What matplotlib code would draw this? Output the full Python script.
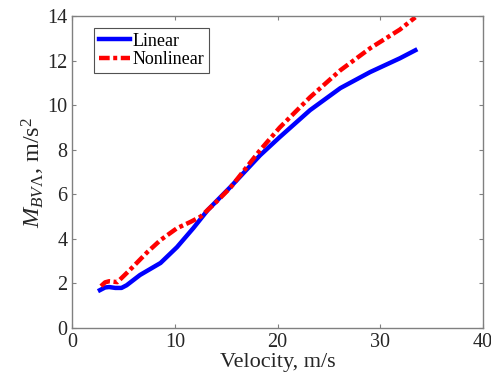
import matplotlib
matplotlib.use("Agg")
import matplotlib.pyplot as plt

v_lin = [2.7, 3.2, 3.6, 4.2, 4.8, 5.3, 6.6, 8.6, 10.2, 11.8, 13.2, 15.4, 18.3, 20.2, 23.15, 26.1, 29.0, 31.9, 33.4]
m_lin = [1.70, 1.82, 1.84, 1.80, 1.80, 1.92, 2.38, 2.92, 3.63, 4.49, 5.30, 6.33, 7.76, 8.57, 9.78, 10.77, 11.49, 12.11, 12.47]

v_non = [2.8, 3.2, 3.6, 4.4, 5.6, 7.3, 8.6, 10.2, 11.5, 12.5, 14.0, 15.4, 18.3, 20.2, 23.15, 26.1, 29.0, 31.9, 33.4]
m_non = [1.88, 2.05, 2.10, 2.06, 2.60, 3.40, 3.95, 4.48, 4.76, 5.00, 5.65, 6.30, 7.99, 9.00, 10.36, 11.57, 12.56, 13.40, 13.95]

x_ticks = [0, 10, 20, 30, 40]
y_ticks = [0, 2, 4, 6, 8, 10, 12, 14]

plt.rcParams['font.family'] = ['Liberation Serif', 'DejaVu Serif']
plt.rcParams['mathtext.fontset'] = 'custom'
plt.rcParams['mathtext.it'] = 'Liberation Serif:italic'
plt.rcParams['mathtext.rm'] = 'Liberation Serif'

fig = plt.figure(figsize=(4.91, 3.85), dpi=100)
ax = fig.add_axes([0.147, 0.148, 0.837, 0.81])

ax.plot(v_lin, m_lin, color='#0000ff', lw=3.2, label='Linear')
ax.plot(v_non, m_non, color='#ff0000', lw=3.2, ls=(0, (2.4, 0.8, 0.9, 0.8)), label='Nonlinear')

ax.set_xlim(0, 40)
ax.set_ylim(0, 14)
ax.set_xticks(x_ticks)
ax.set_yticks(y_ticks)
ax.tick_params(direction='in', top=True, right=True, labelsize=14.5, colors='#808080',
               labelcolor='#262626', length=3)
for s in ax.spines.values():
    s.set_color('#808080')
    s.set_linewidth(1.0)

ax.set_xlabel('Velocity, m/s', fontsize=16, color='#262626', labelpad=1)
ax.set_ylabel(r'$M_{BV\Lambda}$, m/s$^2$', fontsize=17.5, color='#262626', labelpad=0)

leg = ax.legend(loc='upper left', fontsize=13, frameon=True, fancybox=False,
                edgecolor='#262626', handlelength=1.7, borderpad=0.25, labelspacing=0.1,
                handletextpad=0.15, borderaxespad=0, bbox_to_anchor=(0.054, 0.962))
leg.get_frame().set_linewidth(0.8)

fig.savefig('out.png', dpi=100)
